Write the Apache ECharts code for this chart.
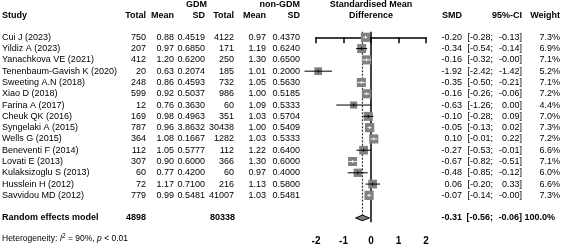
<!DOCTYPE html>
<html>
<head>
<meta charset="utf-8">
<script src="https://cdn.jsdelivr.net/npm/echarts@6/dist/echarts.min.js"></script>
<style>
  html, body { margin: 0; padding: 0; background: #fff; }
  #c { width: 561px; height: 246px; }
</style>
</head>
<body>
<div id="c"></div>
<script>
// study rows
var studies = ['Cui J (2023)', 'Yildiz A (2023)', 'Yanachkova VE (2021)', 'Tenenbaum-Gavish K (2020)',
  'Sweeting A.N (2018)', 'Xiao D (2018)', 'Farina A (2017)', 'Cheuk QK (2016)', 'Syngelaki A (2015)',
  'Wells G (2015)', 'Beneventi F (2014)', 'Lovati E (2013)', 'Kulaksizoglu S (2013)', 'Husslein H (2012)',
  'Savvidou MD (2012)'];
var gdmTotal = [750, 207, 412, 20, 248, 599, 12, 169, 787, 364, 112, 307, 60, 72, 779];
var gdmMean = [0.88, 0.97, 1.20, 0.63, 0.86, 0.92, 0.76, 0.98, 0.96, 1.08, 1.05, 0.90, 0.77, 1.17, 0.99];
var gdmSD = [0.4519, 0.6850, 0.6200, 0.2074, 0.4593, 0.5037, 0.3630, 0.4963, 3.8632, 0.1667, 0.5777, 0.6000, 0.4200, 0.7100, 0.5481];
var ctlTotal = [4122, 171, 250, 185, 732, 986, 60, 351, 30438, 1282, 112, 366, 60, 216, 41007];
var ctlMean = [0.97, 1.19, 1.30, 1.01, 1.05, 1.00, 1.09, 1.03, 1.00, 1.03, 1.22, 1.30, 0.97, 1.13, 1.03];
var ctlSD = [0.4370, 0.6240, 0.6500, 0.2000, 0.5630, 0.5185, 0.5333, 0.5704, 0.5409, 0.5333, 0.6400, 0.6000, 0.4000, 0.5800, 0.5481];
var smd = [-0.20, -0.34, -0.16, -1.92, -0.35, -0.16, -0.63, -0.10, -0.05, 0.10, -0.27, -0.67, -0.48, 0.06, -0.07];
var ciLo = [-0.28, -0.54, -0.32, -2.42, -0.50, -0.26, -1.26, -0.28, -0.13, -0.01, -0.53, -0.82, -0.85, -0.20, -0.14];
var ciHi = [-0.13, -0.14, -0.001, -1.42, -0.21, -0.06, 0.00, 0.09, 0.02, 0.22, -0.01, -0.51, -0.12, 0.33, -0.001];
var weight = [7.3, 6.9, 7.1, 5.2, 7.1, 7.2, 4.4, 7.0, 7.3, 7.2, 6.6, 7.1, 6.0, 6.6, 7.3];

// pooled (random effects)
var pooled = { smd: -0.31, lo: -0.56, hi: -0.06, gdm: 4898, ctl: 80338, w: 100.0 };
var xTicks = [-2, -1, 0, 1, 2];

var ROW_POOL = 16, ROW_HET = 17.8, ROW_H1 = -2.86, ROW_H2 = -1.91;
var FONT = 'Liberation Sans, Arial, sans-serif';
var col = { study: 2, gT: 146, gM: 174, gS: 205, cT: 234, cM: 266, cS: 300, smd: 462, ciL: 493, ciH: 522, w: 560 };

function txt(s, x, y, align, bold, size) {
  return {
    type: 'text', x: x, y: y,
    style: { text: s, align: align, verticalAlign: 'middle', fill: '#000',
      fontFamily: FONT, fontSize: size || 9, fontWeight: bold ? 'bold' : 'normal' }
  };
}

function renderTableRow(params, api) {
  var i = api.value(1);
  var y = api.coord([0, i])[1];
  return { type: 'group', children: [
    txt(studies[i], col.study, y, 'left'),
    txt(String(gdmTotal[i]), col.gT, y, 'right'),
    txt(gdmMean[i].toFixed(2), col.gM, y, 'right'),
    txt(gdmSD[i].toFixed(4), col.gS, y, 'right'),
    txt(String(ctlTotal[i]), col.cT, y, 'right'),
    txt(ctlMean[i].toFixed(2), col.cM, y, 'right'),
    txt(ctlSD[i].toFixed(4), col.cS, y, 'right'),
    txt(smd[i].toFixed(2), col.smd, y, 'right'),
    txt('[' + ciLo[i].toFixed(2) + ';', col.ciL, y, 'right'),
    txt(ciHi[i].toFixed(2) + ']', col.ciH, y, 'right'),
    txt(weight[i].toFixed(1) + '%', col.w, y, 'right')
  ] };
}

function renderExtras(params, api) {
  var y1 = api.coord([0, ROW_H1])[1];
  var y2 = api.coord([0, ROW_H2])[1];
  var yp = api.coord([0, ROW_POOL])[1];
  var yh = api.coord([0, ROW_HET])[1];
  var mid = api.coord([0, 0])[0];
  return { type: 'group', children: [
    txt('GDM', col.gS + 2, y1, 'right', true),
    txt('non-GDM', col.cS, y1, 'right', true),
    txt('Standardised Mean', mid, y1, 'center', true),
    txt('Study', col.study, y2, 'left', true),
    txt('Total', col.gT, y2, 'right', true),
    txt('Mean', col.gM, y2, 'right', true),
    txt('SD', col.gS, y2, 'right', true),
    txt('Total', col.cT, y2, 'right', true),
    txt('Mean', col.cM, y2, 'right', true),
    txt('SD', col.cS, y2, 'right', true),
    txt('Difference', mid, y2, 'center', true),
    txt('SMD', col.smd, y2, 'right', true),
    txt('95%-CI', col.ciH, y2, 'right', true),
    txt('Weight', col.w, y2, 'right', true),
    txt('Random effects model', col.study, yp, 'left', true),
    txt(String(pooled.gdm), col.gT, yp, 'right', true),
    txt(String(pooled.ctl), col.cT + 1, yp, 'right', true),
    txt(pooled.smd.toFixed(2), col.smd, yp, 'right', true),
    txt('[' + pooled.lo.toFixed(2) + ';', col.ciL, yp, 'right', true),
    txt(pooled.hi.toFixed(2) + ']', col.ciH, yp, 'right', true),
    txt(pooled.w.toFixed(1) + '%', col.w - 5, yp, 'right', true),
    {
      type: 'text', x: col.study, y: yh,
      style: {
        text: '{a|Heterogeneity: }{i|I}{s|2}{a| = 90%, }{i|p}{a| < 0.01}',
        align: 'left', verticalAlign: 'middle', fill: '#000', fontFamily: FONT, fontSize: 8.5,
        rich: {
          a: { fontFamily: FONT, fontSize: 8.5, lineHeight: 11 },
          i: { fontFamily: FONT, fontSize: 8.5, fontStyle: 'italic', lineHeight: 11 },
          s: { fontFamily: FONT, fontSize: 6.5, lineHeight: 11, verticalAlign: 'top' }
        }
      }
    }
  ] };
}

function renderRefLines(params, api) {
  var zTop = api.coord([0, -0.5]);
  var zBot = api.coord([0, 16.39]);
  var pTop = api.coord([pooled.smd, -0.5]);
  var pBot = api.coord([pooled.smd, ROW_POOL]);
  return { type: 'group', children: [
    { type: 'line', shape: { x1: pTop[0], y1: pTop[1], x2: pBot[0], y2: pBot[1] },
      style: { stroke: '#333', lineWidth: 1.2, lineDash: [2, 1.5] } },
    { type: 'line', shape: { x1: zTop[0], y1: zTop[1], x2: zBot[0], y2: zBot[1] },
      style: { stroke: '#000', lineWidth: 1.5 } }
  ] };
}

function renderStudy(params, api) {
  var i = api.value(1);
  var c = api.coord([api.value(0), i]);
  var lo = api.coord([api.value(2), i]);
  var hi = api.coord([api.value(3), i]);
  var s = 9.2 * Math.sqrt(api.value(4) / 7.3);
  var ink = (hi[0] - lo[0]) <= s ? '#f2f2f2' : '#000';
  return { type: 'group', children: [
    { type: 'rect', shape: { x: c[0] - s / 2, y: c[1] - s / 2, width: s, height: s }, style: { fill: '#808080' } },
    { type: 'line', shape: { x1: lo[0], y1: c[1], x2: hi[0], y2: c[1] }, style: { stroke: ink, lineWidth: 1 } },
    { type: 'line', shape: { x1: c[0], y1: c[1] - 1.5, x2: c[0], y2: c[1] + 1.5 }, style: { stroke: ink, lineWidth: 1 } }
  ] };
}

function renderDiamond(params, api) {
  var y = api.value(1);
  var l = api.coord([api.value(2), y]);
  var r = api.coord([api.value(3), y]);
  var c = api.coord([api.value(0), y]);
  var h = 2.8;
  return {
    type: 'polygon',
    shape: { points: [[l[0], c[1]], [c[0], c[1] - h], [r[0], c[1]], [c[0], c[1] + h]] },
    style: { fill: '#808080', stroke: '#000', lineWidth: 1 }
  };
}

var chart = echarts.init(document.getElementById('c'), null, { renderer: 'canvas' });
chart.setOption({
  animation: false,
  grid: { left: 316, right: 135, top: 0, bottom: 0 },
  xAxis: {
    type: 'value', min: xTicks[0], max: xTicks[xTicks.length - 1], interval: 1,
    position: 'bottom', offset: -23.7,
    splitLine: { show: false },
    axisLine: { show: true, lineStyle: { color: '#000', width: 1.5 } },
    axisTick: { show: true, length: 6, lineStyle: { color: '#000', width: 1.5 } },
    axisLabel: { color: '#000', fontFamily: FONT, fontSize: 10, fontWeight: 'bold', margin: 13.5 }
  },
  yAxis: { type: 'value', min: -3.304, max: 18.485, inverse: true, show: false },
  series: [
    { type: 'custom', renderItem: renderRefLines, data: [[0, 0]], z: 1, silent: true },
    { type: 'custom', renderItem: renderStudy, z: 2,
      data: studies.map(function (s, i) { return [smd[i], i, ciLo[i], ciHi[i], weight[i]]; }) },
    { type: 'custom', renderItem: renderDiamond, z: 2,
      data: [[pooled.smd, ROW_POOL, pooled.lo, pooled.hi]] },
    { type: 'custom', renderItem: renderTableRow, z: 3,
      data: studies.map(function (s, i) { return [0, i]; }) },
    { type: 'custom', renderItem: renderExtras, data: [[0, 0]], z: 3 }
  ]
});
</script>
</body>
</html>
